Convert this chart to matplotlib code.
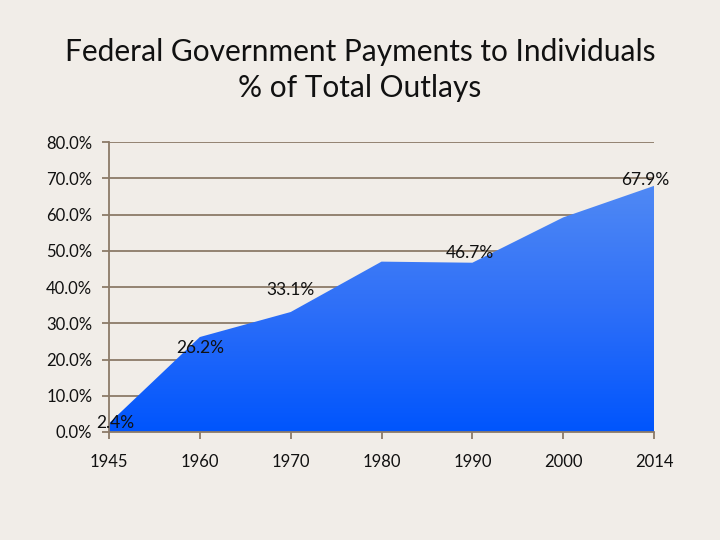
import numpy as np
import matplotlib

matplotlib.use("Agg")
import matplotlib.pyplot as plt
from matplotlib.patches import Polygon

plt.rcParams["font.family"] = ["Lato", "DejaVu Sans"]

YEARS = ["1945", "1960", "1970", "1980", "1990", "2000", "2014"]
SHARE = [2.4, 26.2, 33.1, 47.0, 46.7, 59.2, 67.9]
LABELED = {"1945": "2.4%", "1960": "26.2%", "1970": "33.1%",
           "1990": "46.7%", "2014": "67.9%"}
Y_TICKS = [0, 10, 20, 30, 40, 50, 60, 70, 80]

BG = "#f1ede8"
GRID = "#8c7a68"

fig = plt.figure(figsize=(7.2, 5.4), dpi=100, facecolor=BG)
ax = fig.add_axes([0.1514, 0.2, 0.757, 0.537])
ax.set_facecolor(BG)

x = np.arange(len(YEARS))
ax.set_xlim(0, len(YEARS) - 1)
ax.set_ylim(0, 80)

# gradient fill clipped to the area polygon
verts = [(0, 0)] + list(zip(x, SHARE)) + [(x[-1], 0)]
poly = Polygon(verts, closed=True, facecolor="none", edgecolor="none")
ax.add_patch(poly)
grad = np.linspace(0, 1, 256).reshape(-1, 1)
cmap = matplotlib.colors.LinearSegmentedColormap.from_list(
    "blu", ["#0055fd", "#2e6ff8", "#5089f4"])
im = ax.imshow(grad, extent=[0, x[-1], 0, max(SHARE)], origin="lower",
               aspect="auto", cmap=cmap, zorder=2)
im.set_clip_path(poly)

for t in Y_TICKS[1:]:
    ax.axhline(t, color=GRID, linewidth=1.3, zorder=1)

for sp in ["top", "right"]:
    ax.spines[sp].set_visible(False)
for sp in ["left", "bottom"]:
    ax.spines[sp].set_color(GRID)
    ax.spines[sp].set_linewidth(1.3)

ax.set_xticks(x)
ax.set_xticklabels(YEARS, fontsize=12)
ax.set_yticks(Y_TICKS)
ax.set_yticklabels([f"{t:.1f}%" for t in Y_TICKS], fontsize=12)
ax.tick_params(axis="both", colors=GRID, length=5, width=1.3, labelcolor="#111111")
ax.tick_params(axis="x", pad=11)
ax.tick_params(axis="y", pad=7)

offsets = {"1945": (0.07, 0.0), "1960": (0.0, -3.0), "1970": (0.0, 6.0),
           "1990": (-0.03, 2.7), "2014": (-0.1, 1.7)}
for i, yr in enumerate(YEARS):
    if yr in LABELED:
        dx, dy = offsets[yr]
        ax.text(i + dx, SHARE[i] + dy, LABELED[yr], ha="center", va="center",
                fontsize=12.5, color="#111111", zorder=4)

fig.text(0.5, 0.903, "Federal Government Payments to Individuals",
         ha="center", va="center", fontsize=21.5, color="#111111")
fig.text(0.5, 0.837, "% of Total Outlays",
         ha="center", va="center", fontsize=21.5, color="#111111")

fig.savefig("out.png", dpi=100, facecolor=BG)
